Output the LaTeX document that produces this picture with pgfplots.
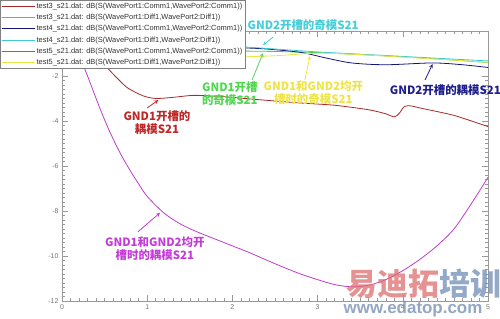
\documentclass[border=0pt]{standalone}
\usepackage{pgfplots}
\pgfplotsset{compat=1.18}
\usepackage{fontspec}
\setmainfont{Liberation Sans}
\newfontfamily\cjk{Noto Sans CJK SC}
\definecolor{cRed}{RGB}{170,40,40}
\definecolor{cGreen}{RGB}{70,205,70}
\definecolor{cNavy}{RGB}{20,20,120}
\definecolor{cCyan}{RGB}{60,200,210}
\definecolor{cMag}{RGB}{190,60,200}
\definecolor{cYel}{RGB}{230,230,70}
\definecolor{tRed}{RGB}{190,40,40}
\definecolor{tGreen}{RGB}{80,215,80}
\definecolor{tYel}{RGB}{238,228,70}
\definecolor{tNavy}{RGB}{30,30,140}
\definecolor{tCyan}{RGB}{70,205,215}
\definecolor{tMag}{RGB}{195,60,215}
\begin{document}
\begin{tikzpicture}[x=1bp,y=1bp]
\path[use as bounding box] (0,0) rectangle (500,318);
\begin{axis}[
  at={(62bp,17bp)}, anchor=south west,
  scale only axis, width=426bp, height=270bp,
  xmin=0, xmax=5, ymin=-12, ymax=0,
  xtick={0,1,2,3,4,5}, ytick={-12,-10,-8,-6,-4,-2},
  minor x tick num=9, minor y tick num=9,
  tick align=inside,
  major tick length=6bp, minor tick length=3bp,
  axis line style={gray!80},
  every tick/.style={gray!80, line width=0.5pt},
  tick label style={font=\fontsize{7}{8}\selectfont, text=gray!90!black},
  /pgf/number format/assume math mode=true,
  clip=false,
  legend style={at={(-0.1455,1.115)}, anchor=north west, draw=gray, fill=white,
    font=\fontsize{7.5}{8}\selectfont, text=black!80, inner sep=1pt,
    row sep=1.2pt, nodes={inner sep=1.6pt}},
  legend cell align=left,
  legend image code/.code={\draw[#1] (0bp,0bp) -- (33bp,0bp);},
]
% test3 Comm (dark red)
\addplot[cRed, line width=0.8pt, smooth, tension=0.4] coordinates {
(0,-0.05) (0.2,-0.3) (0.4,-1.0) (0.56,-1.75) (0.76,-2.5) (0.95,-2.88) (1.1,-3.0)
(1.3,-2.95) (1.55,-2.86) (1.9,-2.92) (2.3,-3.05) (2.8,-3.2) (3.2,-3.3) (3.6,-3.5)
(3.8,-3.68) (3.9,-3.82) (3.96,-3.65) (4.02,-3.35) (4.1,-3.33) (4.2,-3.42) (4.6,-3.75) (5,-4.25)};
\addlegendentry{test3\_s21.dat: dB(S(WavePort1:Comm1,WavePort2:Comm1))}
% test3 Diff (green)
\addplot[cGreen, line width=0.8pt, smooth, tension=0.5] coordinates {
(0,-0.02) (0.5,-0.35) (1,-0.6) (1.5,-0.78) (2,-0.88) (2.5,-0.91) (3,-0.96)
(3.5,-1.05) (4,-1.15) (4.5,-1.27) (5,-1.4)};
\addlegendentry{test3\_s21.dat: dB(S(WavePort1:Diff1,WavePort2:Diff1))}
% test4 Comm (navy)
\addplot[cNavy, line width=0.8pt, smooth, tension=0.5] coordinates {
(0,-0.02) (0.5,-0.2) (1,-0.4) (1.5,-0.57) (2,-0.72) (2.4,-0.8) (2.8,-0.95)
(3.1,-1.2) (3.4,-1.42) (3.8,-1.5) (4.35,-1.42) (4.7,-1.5) (5,-1.62)};
\addlegendentry{test4\_s21.dat: dB(S(WavePort1:Comm1,WavePort2:Comm1))}
% test4 Diff (cyan)
\addplot[cCyan, line width=0.8pt, smooth, tension=0.5] coordinates {
(0,-0.01) (0.5,-0.2) (1,-0.38) (1.5,-0.54) (2,-0.67) (2.5,-0.8) (3,-0.93)
(3.5,-1.03) (4,-1.13) (4.5,-1.23) (5,-1.33)};
\addlegendentry{test4\_s21.dat: dB(S(WavePort1:Diff1,WavePort2:Diff1))}
% test5 Comm (magenta)
\addplot[cMag, line width=0.8pt, smooth, tension=0.5] coordinates {
(0,-0.1) (0.1,-0.5) (0.2,-1.1) (0.3,-2.0) (0.4,-3.0) (0.5,-3.95) (0.6,-4.8)
(0.7,-5.55) (0.8,-6.2) (0.9,-6.8) (1.0,-7.35) (1.2,-8.1) (1.4,-8.6) (1.6,-8.95)
(1.8,-9.25) (2.0,-9.55) (2.2,-9.85) (2.4,-10.18) (2.6,-10.5) (2.8,-10.8) (3.0,-11.05)
(3.2,-11.27) (3.4,-11.37) (3.6,-11.3) (3.8,-11.05) (4.0,-10.65) (4.2,-10.15)
(4.4,-9.55) (4.6,-8.8) (4.8,-7.7) (5.0,-6.5)};
\addlegendentry{test5\_s21.dat: dB(S(WavePort1:Comm1,WavePort2:Comm1))}
% test5 Diff (yellow)
\addplot[cYel, line width=0.8pt, smooth, tension=0.5] coordinates {
(0,-0.05) (0.5,-0.55) (1,-0.9) (1.5,-1.08) (2,-1.15) (2.5,-1.1) (2.9,-1.0)
(3.2,-1.0) (3.6,-1.07) (4,-1.16) (4.5,-1.27) (5,-1.39)};
\addlegendentry{test5\_s21.dat: dB(S(WavePort1:Diff1,WavePort2:Diff1))}

% annotations
\begin{scope}[every node/.style={font=\cjk\bfseries\fontsize{11.5}{13}\selectfont, align=center, inner sep=0pt}]
\node[text=tCyan] at (axis cs:2.83,0.27) {GND2开槽的奇模S21};
\draw[-stealth, tCyan, line width=0.8pt] (axis cs:2.48,-0.27) -- (axis cs:2.36,-0.62);
\node[text=tGreen] at (axis cs:1.97,-2.8) {GND1开槽\\的奇模S21};
\draw[-stealth, tGreen, line width=0.8pt] (axis cs:2.23,-2.18) -- (axis cs:2.36,-0.98);
\node[text=tYel] at (axis cs:2.95,-2.76) {GND1和GND2均开\\槽时的奇模S21};
\draw[-stealth, tYel, line width=0.8pt] (axis cs:2.85,-2.18) -- (axis cs:2.91,-1.12);
\node[text=tNavy] at (axis cs:4.5,-2.62) {GND2开槽的耦模S21};
\draw[-stealth, tNavy, line width=0.8pt] (axis cs:4.26,-2.18) -- (axis cs:4.35,-1.47);
\node[text=tRed] at (axis cs:1.115,-4.09) {GND1开槽的\\耦模S21};
\draw[-stealth, tRed, line width=0.8pt] (axis cs:1.0,-3.42) -- (axis cs:1.13,-3.07);
\node[text=tMag] at (axis cs:1.09,-9.69) {GND1和GND2均开\\槽时的耦模S21};
\draw[-stealth, tMag, line width=0.8pt] (axis cs:0.89,-8.93) -- (axis cs:1.15,-8.08);
\end{scope}
% watermark
\node[font=\cjk\bfseries\fontsize{31}{31}\selectfont, inner sep=0pt, opacity=0.75] at (axis cs:4.25,-11.25)
  {\textcolor[RGB]{220,110,110}{易迪拓}\textcolor[RGB]{110,140,180}{培训}};
\node[font=\bfseries\fontsize{17}{17}\selectfont, inner sep=0pt, text={rgb,255:red,120;green,145;blue,180}, opacity=0.8] at (axis cs:4.12,-12.38)
  {www.edatop.com};
\end{axis}
\end{tikzpicture}
\end{document}
